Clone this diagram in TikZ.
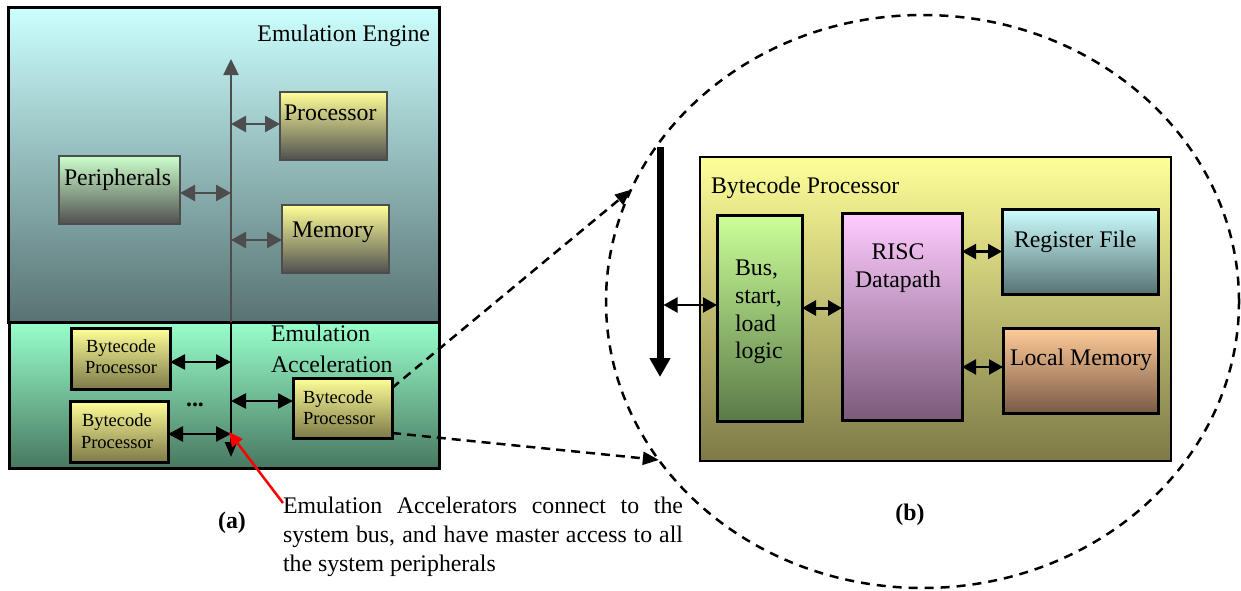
\documentclass[tikz,border=0pt]{standalone}
\usepackage{fontspec}
\setmainfont{Liberation Serif}
\usetikzlibrary{arrows.meta,shapes.geometric}
\hyphenpenalty=10000
\exhyphenpenalty=10000

% fill colours (top / bottom of each vertical gradient)
\definecolor{engTop}{RGB}{204,255,255}
\definecolor{engBot}{RGB}{88,114,114}
\definecolor{accTop}{RGB}{153,255,204}
\definecolor{accBot}{RGB}{72,120,96}
\definecolor{ylwTop}{RGB}{255,255,153}
\definecolor{gryBot}{RGB}{80,80,80}
\definecolor{grnTop}{RGB}{204,255,204}
\definecolor{oliBot}{RGB}{125,122,72}
\definecolor{limTop}{RGB}{204,255,153}
\definecolor{limBot}{RGB}{90,122,72}
\definecolor{pnkTop}{RGB}{255,204,255}
\definecolor{pnkBot}{RGB}{122,90,122}
\definecolor{orgTop}{RGB}{255,204,153}
\definecolor{orgBot}{RGB}{122,90,70}
\definecolor{busGray}{RGB}{77,77,77}

\begin{document}
\begin{tikzpicture}[x=1pt,y=-1pt,
  every node/.style={inner sep=0pt,outer sep=0pt},
  box/.style={draw,rectangle,anchor=north west},
  big/.style={font=\fontsize{23.8}{29}\selectfont},
  small/.style={font=\fontsize{18.5}{21.5}\selectfont},
  txt/.style={big,anchor=base west},
  stxt/.style={small,anchor=base west},
  boldlbl/.style={font=\fontsize{23.8}{29}\selectfont\bfseries,anchor=base},
  garrow/.style={draw=busGray,line width=2.5pt,>={Triangle[length=15pt,width=16pt]},<->},
  karrow/.style={draw=black,line width=2.5pt,>={Triangle[length=15pt,width=15pt]},<->},
  rarrow/.style={draw=black,line width=2.2pt,>={Triangle[length=14pt,width=15pt]},<->},
  zarrow/.style={draw=black,line width=2.5pt,dash pattern=on 9pt off 6pt,->,>={Triangle[length=16pt,width=13pt]}},
  redarrow/.style={draw=red,line width=2.5pt,->,>={Triangle[length=14pt,width=13pt]}}
]
\useasboundingbox (0,0) rectangle (1241,590);

% ---------- (a) the emulation system ----------
\node[box,line width=3pt,top color=engTop,bottom color=engBot,
      minimum width=431pt,minimum height=315pt] (engine) at (8,7) {};
\node[box,line width=3pt,top color=accTop,bottom color=accBot,
      minimum width=430pt,minimum height=146pt] (accel) at (9,322) {};

\node[box,draw=busGray,line width=2.5pt,top color=ylwTop,bottom color=gryBot,
      minimum width=107pt,minimum height=68pt] (proc) at (280,92) {};
\node[box,draw=busGray,line width=2.5pt,top color=ylwTop,bottom color=gryBot,
      minimum width=107pt,minimum height=68pt] (mem) at (282,205) {};
\node[box,draw=busGray,line width=2.5pt,top color=grnTop,bottom color=gryBot,
      minimum width=121pt,minimum height=68pt] (peri) at (59,156) {};

\node[box,line width=3pt,top color=ylwTop,bottom color=oliBot,
      minimum width=99pt,minimum height=61pt] (bpa) at (71,328) {};
\node[box,line width=3pt,top color=ylwTop,bottom color=oliBot,
      minimum width=98pt,minimum height=61pt] (bpb) at (70,401) {};
\node[box,line width=3pt,top color=ylwTop,bottom color=oliBot,
      minimum width=99pt,minimum height=60pt] (bpc) at (293,378) {};

% system bus
\coordinate (busTop) at (231,59);
\coordinate (busJoin) at (231,322);
\coordinate (busEnd) at (231,457);
\draw[draw=busGray,line width=2.5pt,-{Triangle[length=16pt,width=15pt]}] (busJoin) -- (busTop);
\draw[line width=2.5pt,-{Triangle[length=15pt,width=12pt]}] (busJoin) -- (busEnd);

% bus connections in the engine
\path ([yshift=2pt]proc.west) coordinate (pA);
\draw[garrow] (pA -| busTop) -- (pA);
\path ([yshift=-3pt]peri.east) coordinate (pB);
\draw[garrow] (pB) -- (pB -| busTop);
\path ([yshift=-1pt]mem.west) coordinate (pC);
\draw[garrow] (pC -| busTop) -- (pC);

% bus connections of the accelerators
\path ([yshift=-3.5pt]bpa.east) coordinate (kA);
\draw[karrow] (kA) -- (kA -| busEnd);
\path ([yshift=-2.5pt]bpb.east) coordinate (kB);
\draw[karrow] (kB) -- (kB -| busEnd);
\path ([yshift=7pt]bpc.west) coordinate (kC);
\draw[karrow] (kC -| busEnd) -- (kC);

% labels
\node[txt,anchor=base east] (engLbl) at (430,41) {Emulation Engine};
\node[txt] (procLbl) at (284,120) {Processor};
\node[txt] (memLbl) at (292,237) {Memory};
\node[txt] (periLbl) at (64,185) {Peripherals};
\node[txt] (accLblA) at (271,341) {Emulation};
\node[txt] (accLblB) at (271,372) {Acceleration};
\node[stxt] (bpaLblA) at (86,352) {Bytecode};
\node[stxt] (bpaLblB) at (85,373) {Processor};
\node[stxt] (bpbLblA) at (82,426) {Bytecode};
\node[stxt] (bpbLblB) at (81,448) {Processor};
\node[stxt] (bpcLblA) at (303,403) {Bytecode};
\node[stxt] (bpcLblB) at (303,424) {Processor};
\node[big,anchor=base,font=\fontsize{23.8}{29}\selectfont\bfseries] (dots) at (195,406) {...};

% ---------- (b) the bytecode processor ----------
\node[draw,ellipse,line width=2.5pt,dash pattern=on 9pt off 7pt,
      minimum width=633pt,minimum height=573pt] (zoom) at (922.5,301.5) {};

\node[box,line width=2.5pt,top color=ylwTop,bottom color=oliBot,
      minimum width=471pt,minimum height=304pt] (bcp) at (700,157) {};
\node[txt] (bcpLbl) at (711,193) {Bytecode Processor};

\node[box,line width=3pt,top color=limTop,bottom color=limBot,
      minimum width=85pt,minimum height=206pt] (logic) at (717,215) {};
\node[box,line width=3pt,top color=pnkTop,bottom color=pnkBot,
      minimum width=120pt,minimum height=207pt] (risc) at (842,213) {};
\node[box,line width=3pt,top color=engTop,bottom color=engBot,
      minimum width=156pt,minimum height=85pt] (reg) at (1002,209) {};
\node[box,line width=3pt,top color=orgTop,bottom color=orgBot,
      minimum width=155pt,minimum height=85pt] (lmem) at (1003,328) {};

\node[txt] (logicLblA) at (735,275) {Bus,};
\node[txt] (logicLblB) at (735,303) {start,};
\node[txt] (logicLblC) at (735,331) {load};
\node[txt] (logicLblD) at (735,358) {logic};
\node[big,anchor=base] (riscLblA) at (898,259) {RISC};
\node[big,anchor=base] (riscLblB) at (898,287) {Datapath};
\node[txt] (regLbl) at (1014,247) {Register File};
\node[txt] (lmemLbl) at (1010,365) {Local Memory};

% local bus of the bytecode processor
\coordinate (rbTop) at (660,147);
\coordinate (rbEnd) at (660,377);
\coordinate (rbEdge) at (663.5,147);
\draw[line width=7pt,-{Triangle[length=19pt,width=20pt]}] (rbTop) -- (rbEnd);

\path ([yshift=13pt]logic.west) coordinate (rA);
\draw[rarrow] (rA -| rbEdge) -- (rA);
\path ([yshift=10pt]logic.east) coordinate (rB);
\draw[rarrow,line width=3pt] (rB) -- (rB -| risc.west);
\draw[rarrow] (risc.east |- reg.west) -- (reg.west);
\path ([yshift=3.5pt]lmem.west) coordinate (rD);
\draw[rarrow] (rD -| risc.east) -- (rD);

% zoom-in arrows
\draw[zarrow] ([yshift=-10pt]bpc.north east) -- (zoom.159.5);
\draw[zarrow] ([yshift=5pt]bpc.south east) -- (zoom.211.4);

% note on the accelerators
\node[big,anchor=base west,text width=400pt,align=justify] (note) at (283,513)
  {Emulation Accelerators connect to the system bus, and have master access to all the system peripherals};
\coordinate (tail) at (283,503);
\coordinate (hit) at (229,432);
\draw[redarrow] (tail) -- (hit);

\node[boldlbl] (labA) at (232,528) {(a)};
\node[boldlbl] (labB) at (910,520) {(b)};
\end{tikzpicture}
\end{document}
